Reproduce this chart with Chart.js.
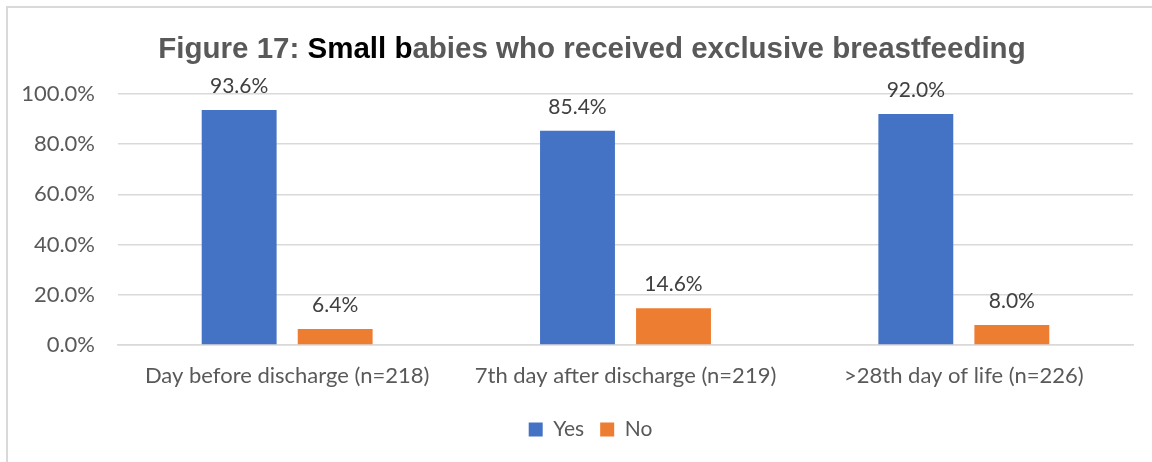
<!DOCTYPE html>
<html>
<head>
<meta charset="utf-8">
<script src="https://cdn.jsdelivr.net/npm/chart.js@4.4.1/dist/chart.umd.min.js"></script>
<style>
  html, body { margin: 0; padding: 0; background: #fff; }
  #wrap { position: absolute; left: 0; top: 0; width: 1152px; height: 462px; }
  #frame { position: absolute; left: 6px; top: 6px; width: 1200px; height: 500px;
           border-left: 2px solid #d9d9d9; border-top: 2px solid #d9d9d9; box-sizing: border-box; }
  canvas { position: absolute; left: 0; top: 0; }
</style>
</head>
<body>
<div id="wrap">
  <div id="frame"></div>
  <canvas id="c" width="1152" height="462"></canvas>
</div>
<script>
const categories = ["Day before discharge (n=218)", "7th day after discharge (n=219)", ">28th day of life (n=226)"];
const yesValues = [93.6, 85.4, 92.0];
const noValues = [6.4, 14.6, 8.0];
const seriesNames = ["Yes", "No"];
const titleParts = [
  { text: "Figure 17: ", color: "#595959" },
  { text: "Small b", color: "#000000" },
  { text: "abies who received exclusive breastfeeding", color: "#595959" }
];

const titlePlugin = {
  id: 'mixedTitle',
  afterDraw(chart) {
    const ctx = chart.ctx;
    ctx.save();
    ctx.font = "bold 29.5px 'Liberation Sans', Arial, sans-serif";
    ctx.textBaseline = 'alphabetic';
    ctx.textAlign = 'left';
    let total = 0;
    titleParts.forEach(p => total += ctx.measureText(p.text).width);
    let x = 592 - total / 2;
    titleParts.forEach(p => {
      ctx.fillStyle = p.color;
      ctx.fillText(p.text, x, 58);
      x += ctx.measureText(p.text).width;
    });
    ctx.restore();
  }
};

const legendShift = {
  id: 'legendShift',
  beforeDraw(chart) {
    const lg = chart.legend;
    if (lg && !lg._shifted) {
      lg.left += 24; lg.right += 24;
      lg._shifted = true;
    }
  }
};

const labelPlugin = {
  id: 'valueLabels',
  afterDatasetsDraw(chart) {
    const ctx = chart.ctx;
    ctx.save();
    ctx.font = "21px Lato, sans-serif";
    ctx.fillStyle = "#404040";
    ctx.textAlign = 'center';
    ctx.textBaseline = 'alphabetic';
    chart.data.datasets.forEach((ds, i) => {
      const meta = chart.getDatasetMeta(i);
      meta.data.forEach((bar, j) => {
        ctx.fillText(ds.data[j].toFixed(1) + '%', bar.x, bar.y - 17);
      });
    });
    ctx.restore();
  }
};

new Chart(document.getElementById('c'), {
  type: 'bar',
  data: {
    labels: categories,
    datasets: [
      { label: seriesNames[0], data: yesValues, backgroundColor: '#4472C4',
        categoryPercentage: 0.5676, barPercentage: 0.78 },
      { label: seriesNames[1], data: noValues, backgroundColor: '#ED7D31',
        categoryPercentage: 0.5676, barPercentage: 0.78 }
    ]
  },
  options: {
    responsive: false,
    animation: false,
    devicePixelRatio: 1,
    layout: { padding: { left: 0, right: 19, top: 94, bottom: 12 } },
    scales: {
      x: {
        grid: { display: false, drawTicks: false },
        border: { display: true, color: '#d9d9d9', width: 1.5 },
        ticks: { color: '#595959', font: { family: 'Lato', size: 22 }, padding: 18, maxRotation: 0 },
        afterFit(s) { s.height = 58; }
      },
      y: {
        min: 0, max: 100,
        grid: { color: '#d9d9d9', lineWidth: 1.5, drawTicks: false },
        border: { display: false },
        ticks: { stepSize: 20, color: '#595959', font: { family: 'Lato', size: 22 }, padding: 23,
                 callback: v => v.toFixed(1) + '%' },
        afterFit(s) { s.width = 118; }
      }
    },
    plugins: {
      legend: {
        position: 'bottom',
        labels: { boxWidth: 14, boxHeight: 14, color: '#595959', font: { family: 'Lato', size: 21 }, padding: 16 }
      },
      title: { display: false },
      tooltip: { enabled: false }
    }
  },
  plugins: [legendShift, titlePlugin, labelPlugin]
});
</script>
</body>
</html>
